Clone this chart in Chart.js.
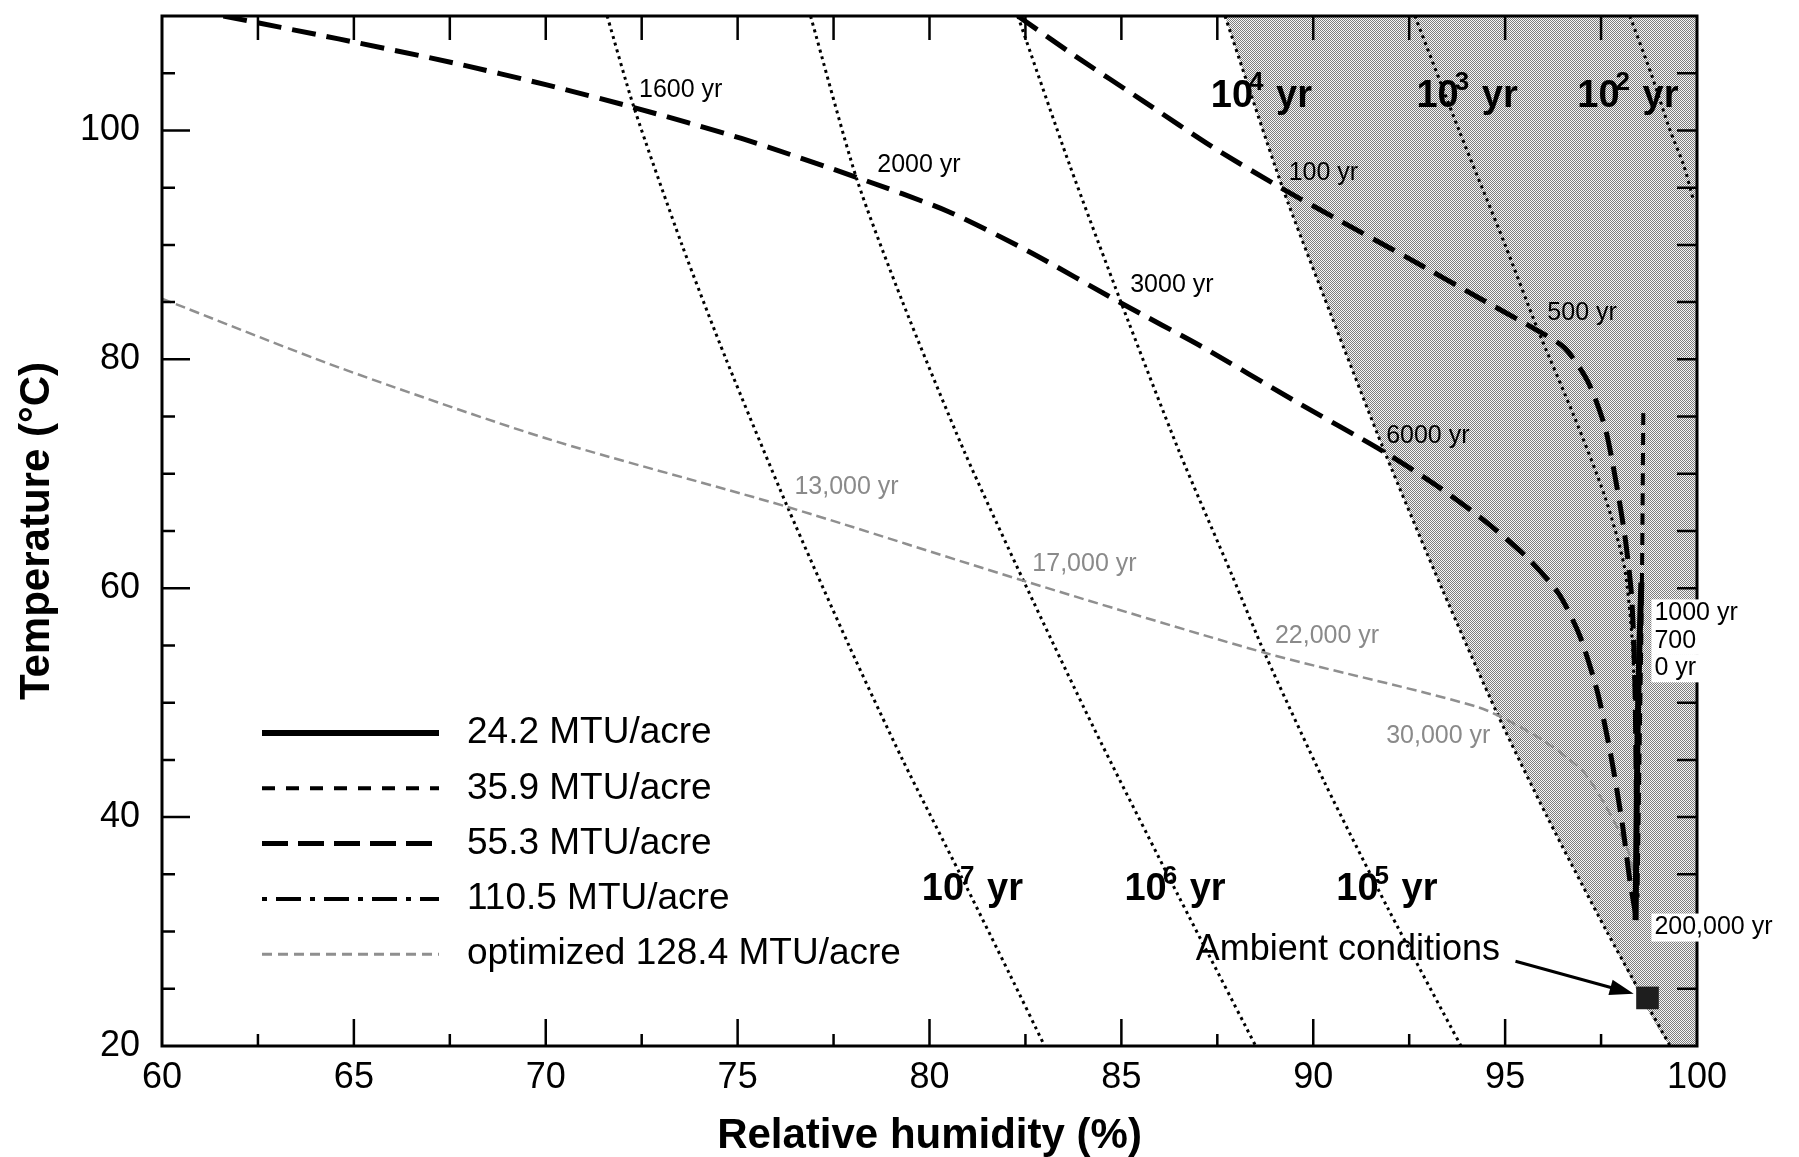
<!DOCTYPE html>
<html>
<head>
<meta charset="utf-8">
<title>Temperature vs relative humidity</title>
<script src="https://cdn.jsdelivr.net/npm/chart.js@4.4.1/dist/chart.umd.min.js"></script>
<style>
  html, body { margin: 0; padding: 0; background: #fff; }
  #wrap { width: 1799px; height: 1157px; position: relative; }
</style>
</head>
<body>
<div id="wrap"><canvas id="rhChart"></canvas></div>
<script>
const FONT = '"Liberation Sans", Arial, Helvetica, sans-serif';

// axis tick labels
const xTicks = [60, 65, 70, 75, 80, 85, 90, 95, 100];
const yTicks = [20, 40, 60, 80, 100];

// thermal load curves: relative humidity (%) / temperature (°C)
const rh242 = [98.55, 98.5, 98.45, 98.42, 98.4];
const t242 = [60.5, 55, 47, 38, 31];

const rh359 = [98.6, 98.58, 98.55, 98.5, 98.45];
const t359 = [75.3, 66, 56, 45, 33];

const rh553 = [82.3, 83.8, 85.6, 87.4, 89.15, 90.7, 92.5, 94.3, 95.8, 96.55, 97.15, 97.6, 97.9, 98.14, 98.3, 98.38, 98.42];
const t553 = [110, 106.5, 102.5, 98.5, 95, 92.1, 88.8, 85.4, 82.6, 81.0, 78.1, 74.1, 69.1, 64.1, 59.1, 52, 42];

const rh1105 = [61.6, 64.6, 67.6, 70.0, 72.3, 75.1, 78.1, 80.5, 82.6, 85.0, 87.1, 89.5, 91.8, 93.2, 94.5, 95.6, 96.4, 96.95, 97.4, 97.75, 98.05, 98.25, 98.4];
const t1105 = [110, 108.0, 105.9, 104.0, 102.0, 99.3, 95.9, 92.9, 89.4, 84.9, 81.1, 76.4, 72.0, 69.0, 65.8, 62.6, 59.5, 55.8, 51.0, 45.5, 39.5, 34.5, 31.5];

const rhOpt = [60, 64.6, 70.0, 76.3, 82.5, 88.8, 94.3, 95.8, 97.0, 97.6, 98.2, 98.4];
const tOpt = [85.3, 79.3, 73.1, 67.1, 60.6, 54.3, 49.6, 47.1, 44.1, 41.1, 37.1, 34.2];

// equal-lifetime contours (years)
const rhE7 = [71.6, 72.3, 73.55, 74.7, 76.3, 77.9, 79.3, 80.8, 82.1, 83.0];
const tE7 = [110, 102, 90, 80, 67.1, 55, 45, 35, 26.2, 20];
const rhE6 = [76.9, 78.1, 79.3, 80.9, 82.5, 84.25, 86.2, 88.5];
const tE6 = [110, 95.8, 85, 72, 60.3, 48, 35, 20];
const rhE5 = [82.3, 83.65, 85.0, 86.5, 87.9, 88.75, 90.3, 91.95, 93.85];
const tE5 = [110, 97, 84.9, 72, 61, 54.2, 43, 32, 20];
const rhE4 = [87.7, 89.2, 90.45, 91.85, 93.35, 94.8, 96.1, 97.65, 99.3];
const tE4 = [110, 95, 84, 72, 60, 49, 40, 30, 20];
const rhE3 = [92.65, 93.8, 95.0, 95.85, 96.8, 97.6, 98.1, 98.3, 98.38];
const tE3 = [110, 100, 90, 82.6, 75, 68, 62, 56, 50];
const rhE2 = [98.25, 98.8, 99.3, 99.65, 99.9];
const tE2 = [110, 105, 100, 97, 94];

// ambient conditions
const rhAmbient = [98.71];
const tAmbient = [24.2];

// notes: text, RH, temperature
const loadNotes = [
  ['1600 yr', 72.43, 103.5], ['2000 yr', 78.64, 97.0], ['3000 yr', 85.23, 86.45],
  ['6000 yr', 91.9, 73.3], ['100 yr', 89.36, 96.3], ['500 yr', 96.1, 84.05]
];
const optNotes = [
  ['13,000 yr', 76.48, 68.8], ['17,000 yr', 82.68, 62.1],
  ['22,000 yr', 89.0, 55.8], ['30,000 yr', 91.9, 47.1]
];
const edgeNotes = [
  ['1000 yr', 98.89, 57.8], ['700', 98.89, 55.4], ['0 yr', 98.89, 53.0], ['200,000 yr', 98.89, 30.35]
];
const contourNotes = [
  ['7', 79.8, 33.65], ['6', 85.08, 33.65], ['5', 90.6, 33.65],
  ['4', 87.33, 103.0], ['3', 92.69, 103.0], ['2', 96.88, 103.0]
];
const ambientNote = ['Ambient conditions', 86.94, 28.4];
const ambientArrow = [[95.27, 27.4], [98.35, 24.57]];

const pts = (xs, ys) => xs.map((x, i) => ({ x: x, y: ys[i] }));

// halftone for the shaded zone
function halftone() {
  const c = document.createElement('canvas');
  c.width = 4; c.height = 4;
  const g = c.getContext('2d');
  g.fillStyle = '#f6f6f6';
  g.fillRect(0, 0, 4, 4);
  g.fillStyle = '#7c7c7c';
  for (let i = 0; i < 4; i++) {
    for (let j = 0; j < 4; j++) {
      if ((i + j) % 2 === 0) g.fillRect(i, j, 1, 1);
    }
  }
  return g.createPattern(c, 'repeat');
}

function curve(label, xs, ys, opts) {
  return Object.assign({
    label: label,
    data: pts(xs, ys),
    borderColor: '#000',
    borderWidth: 5,
    pointRadius: 0,
    fill: false,
    tension: 0.25,
    order: 1
  }, opts);
}

const contour = (label, xs, ys) => curve(label, xs, ys, { borderWidth: 3, borderDash: [3, 4], order: 5 });

const overlay = {
  id: 'overlay',
  afterDatasetsDraw(chart) {
    const { ctx, chartArea: a, scales: { x, y } } = chart;
    ctx.save();

    // frame and inward ticks
    ctx.strokeStyle = '#000';
    ctx.lineWidth = 3;
    ctx.strokeRect(a.left, a.top, a.right - a.left, a.bottom - a.top);
    ctx.lineWidth = 2.5;
    ctx.beginPath();
    for (let v = 62.5; v < 100; v += 2.5) {
      const px = x.getPixelForValue(v);
      ctx.moveTo(px, a.bottom);
      ctx.lineTo(px, a.bottom - (v % 5 === 0 ? 27 : 12));
      ctx.moveTo(px, a.top);
      ctx.lineTo(px, a.top + 24);
    }
    for (let v = 25; v < 110; v += 5) {
      const py = y.getPixelForValue(v);
      ctx.moveTo(a.left, py);
      ctx.lineTo(a.left + (v % 20 === 0 ? 28 : 13), py);
      ctx.moveTo(a.right, py);
      ctx.lineTo(a.right - 20, py);
    }
    ctx.stroke();

    ctx.textBaseline = 'middle';
    ctx.textAlign = 'left';

    // year marks along the load curves
    ctx.font = '25px ' + FONT;
    ctx.fillStyle = '#000';
    loadNotes.forEach(([t, rx, ty]) => ctx.fillText(t, x.getPixelForValue(rx), y.getPixelForValue(ty)));

    ctx.fillStyle = '#8a8a8a';
    optNotes.forEach(([t, rx, ty]) => ctx.fillText(t, x.getPixelForValue(rx), y.getPixelForValue(ty)));

    // labels sitting over the right edge, on white
    edgeNotes.forEach(([t, rx, ty]) => {
      const px = x.getPixelForValue(rx), py = y.getPixelForValue(ty);
      const w = ctx.measureText(t).width;
      ctx.fillStyle = '#fff';
      ctx.fillRect(px - 3, py - 14, w + 6, 28);
      ctx.fillStyle = '#000';
      ctx.fillText(t, px, py);
    });

    // lifetime contour labels, 10^n yr
    contourNotes.forEach(([n, rx, ty]) => {
      let px = x.getPixelForValue(rx);
      const py = y.getPixelForValue(ty);
      ctx.font = 'bold 38px ' + FONT;
      ctx.fillText('10', px, py);
      px += ctx.measureText('10').width - 4;
      ctx.font = 'bold 26px ' + FONT;
      ctx.fillText(n, px, py - 13);
      px += ctx.measureText(n).width + 2;
      ctx.font = 'bold 38px ' + FONT;
      ctx.fillText(' yr', px, py);
    });

    // ambient conditions pointer
    ctx.font = '36px ' + FONT;
    ctx.fillText(ambientNote[0], x.getPixelForValue(ambientNote[1]), y.getPixelForValue(ambientNote[2]));
    const x0 = x.getPixelForValue(ambientArrow[0][0]), y0 = y.getPixelForValue(ambientArrow[0][1]);
    const x1 = x.getPixelForValue(ambientArrow[1][0]), y1 = y.getPixelForValue(ambientArrow[1][1]);
    const ang = Math.atan2(y1 - y0, x1 - x0);
    ctx.lineWidth = 3;
    ctx.beginPath();
    ctx.moveTo(x0, y0);
    ctx.lineTo(x1 - 18 * Math.cos(ang), y1 - 18 * Math.sin(ang));
    ctx.stroke();
    ctx.beginPath();
    ctx.moveTo(x1, y1);
    ctx.lineTo(x1 - 24 * Math.cos(ang) + 8 * Math.sin(ang), y1 - 24 * Math.sin(ang) - 8 * Math.cos(ang));
    ctx.lineTo(x1 - 24 * Math.cos(ang) - 8 * Math.sin(ang), y1 - 24 * Math.sin(ang) + 8 * Math.cos(ang));
    ctx.closePath();
    ctx.fill();

    // legend
    const keys = chart.data.datasets.filter(d => d.legendDash);
    keys.forEach((d, i) => {
      const ly = a.top + 717 + i * 55.3;
      ctx.strokeStyle = d.borderColor;
      ctx.lineWidth = d.legendWidth;
      ctx.setLineDash(d.legendDash);
      ctx.beginPath();
      ctx.moveTo(a.left + 100, ly);
      ctx.lineTo(a.left + 277, ly);
      ctx.stroke();
      ctx.setLineDash([]);
      ctx.fillStyle = '#000';
      ctx.font = '37px ' + FONT;
      ctx.fillText(d.label, a.left + 305, ly);
    });

    ctx.restore();
  }
};

const shade = halftone();

new Chart(document.getElementById('rhChart'), {
  type: 'line',
  data: {
    datasets: [
      curve('24.2 MTU/acre', rh242, t242, { borderWidth: 6, legendDash: [], legendWidth: 6 }),
      curve('35.9 MTU/acre', rh359, t359, { borderWidth: 4, borderDash: [12, 8], legendDash: [13, 11], legendWidth: 4 }),
      curve('55.3 MTU/acre', rh553, t553, { borderDash: [24, 11], legendDash: [26, 10], legendWidth: 5 }),
      curve('110.5 MTU/acre', rh1105, t1105, { borderDash: [24, 11], legendDash: [5, 9, 25, 9], legendWidth: 4 }),
      curve('optimized 128.4 MTU/acre', rhOpt, tOpt, { borderColor: '#8f8f8f', borderWidth: 2.5, borderDash: [10, 5], legendDash: [10, 6], legendWidth: 3 }),
      contour('1e7 yr', rhE7, tE7),
      contour('1e6 yr', rhE6, tE6),
      contour('1e5 yr', rhE5, tE5),
      contour('1e4 yr', rhE4, tE4),
      contour('1e3 yr', rhE3, tE3),
      contour('1e2 yr', rhE2, tE2),
      {
        label: 'Ambient conditions',
        data: pts(rhAmbient, tAmbient),
        showLine: false,
        pointStyle: 'rect',
        pointRadius: 16,
        pointBackgroundColor: '#1e1e1e',
        pointBorderWidth: 0,
        order: 0
      },
      {
        // shaded zone right of the 10^4 yr contour
        label: 'zone',
        data: pts(rhE4.concat([100]), tE4.concat([20])),
        borderWidth: 0,
        pointRadius: 0,
        tension: 0.25,
        backgroundColor: shade,
        fill: 'end',
        order: 99
      }
    ]
  },
  options: {
    responsive: true,
    maintainAspectRatio: false,
    animation: false,
    events: [],
    layout: { padding: { left: 0, top: 12, right: 102, bottom: 0 } },
    plugins: { legend: { display: false }, tooltip: { enabled: false } },
    scales: {
      x: {
        type: 'linear',
        min: 60,
        max: 100,
        afterBuildTicks: s => { s.ticks = xTicks.map(v => ({ value: v })); },
        afterFit: s => { s.height = 111; s.paddingLeft = 0; s.paddingRight = 0; },
        grid: { display: false, drawTicks: false },
        border: { display: false },
        ticks: { color: '#000', padding: 10, maxRotation: 0, autoSkip: false, font: { family: FONT, size: 36 } },
        title: { display: true, text: 'Relative humidity (%)', color: '#000', padding: 0, font: { family: FONT, size: 42, weight: 'bold', lineHeight: 1 } }
      },
      y: {
        type: 'linear',
        min: 20,
        max: 110,
        afterBuildTicks: s => { s.ticks = yTicks.map(v => ({ value: v })); },
        afterFit: s => { s.width = 162; s.paddingTop = 0; s.paddingBottom = 0; },
        grid: { display: false, drawTicks: false },
        border: { display: false },
        ticks: { color: '#000', padding: 22, autoSkip: false, font: { family: FONT, size: 36 } },
        title: { display: true, text: 'Temperature (°C)', color: '#000', padding: { top: 16, bottom: 0 }, font: { family: FONT, size: 42, weight: 'bold', lineHeight: 1 } }
      }
    }
  },
  plugins: [overlay]
});
</script>
</body>
</html>
